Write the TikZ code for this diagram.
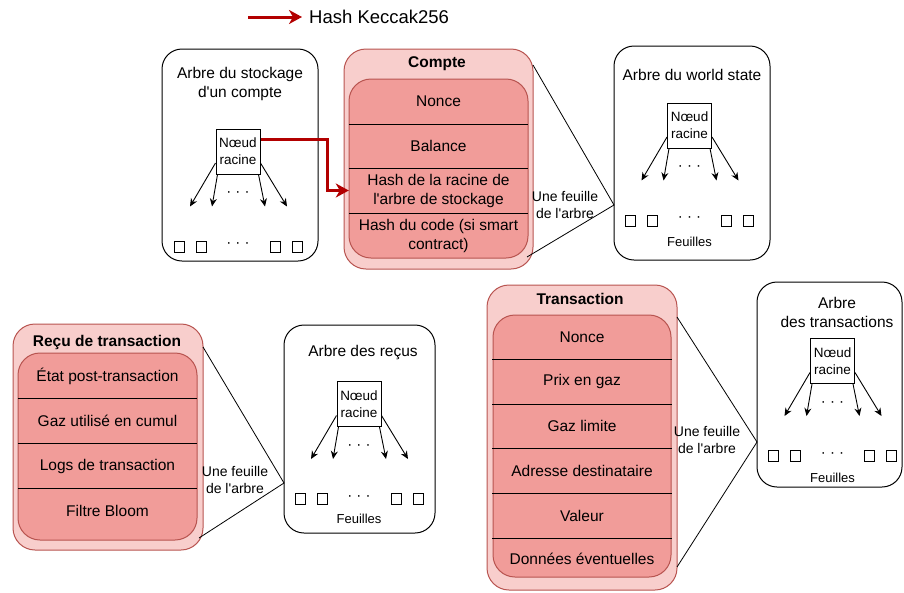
\documentclass[tikz,border=0pt]{standalone}
\usepackage{fontspec}
\setmainfont{Liberation Sans}[Ligatures=TeXOff]
\usepackage{tikz}
\usetikzlibrary{arrows.meta}
\definecolor{fondclair}{HTML}{F8CECC}
\definecolor{fondfonce}{HTML}{F19C99}
\definecolor{bordrouge}{HTML}{B85450}
\definecolor{rougehash}{HTML}{B20000}
\tikzset{
  boite/.style={rectangle, draw, rounded corners=20pt, line width=1pt},
  cadre/.style={rectangle, draw=bordrouge, fill=fondclair, rounded corners=22pt, line width=1pt},
  interieur/.style={rectangle, draw=bordrouge, fill=fondfonce, rounded corners=22pt, line width=1pt},
  champ/.style={rectangle, minimum width=179pt, minimum height=45pt, inner sep=0pt, align=center, font=\fontsize{15.5}{19}\selectfont},
  titre/.style={align=center, font=\fontsize{15.5}{19}\selectfont},
  entete/.style={font=\fontsize{15.5}{19}\selectfont\bfseries},
  petit/.style={align=center, font=\fontsize{13}{17}\selectfont},
  lien/.style={align=center, font=\fontsize{14}{17}\selectfont},
  racine/.style={rectangle, draw, fill=white, line width=1pt, minimum width=44pt, minimum height=45pt, inner sep=0pt, align=center, font=\fontsize{13.5}{17}\selectfont},
  feuille/.style={rectangle, draw, line width=1pt, minimum width=10pt, minimum height=11pt, inner sep=0pt},
  points/.style={inner sep=0pt, font=\fontsize{15}{19}\selectfont},
  fleche/.style={-{Stealth[length=8pt,width=7pt]}, line width=0.9pt},
  rouge/.style={draw=rougehash, line width=3pt, -{Stealth[length=13pt,width=14pt,inset=4pt]}},
}
\newcommand{\boite}[4] {\node at (#1) (#2) [boite, minimum width=#3pt, minimum height=#4pt] {};}
\newcommand{\cadre}[4] {\node at (#1) (#2) [cadre, minimum width=#3pt, minimum height=#4pt] {};}
\newcommand{\interieur}[4] {\node at (#1) (#2) [interieur, minimum width=#3pt, minimum height=#4pt] {};}
\newcommand{\champ}[3] {\node at (#1) (#2) [champ] {#3};}
\newcommand{\separe}[1] {\draw [line width=1pt] (#1.south west) -- (#1.south east);}
\newcommand{\feuillelien}[4] {\draw [line width=0.8pt] (#1) -- (#2) -- (#3); \node at (#4) [lien] {Une feuille\\de l'arbre};}
\newcommand{\arbre}[2] {
  \begin{scope}[shift={(#1)}]
  \node at (0,0) (#2) [racine] {Nœud\\racine};
  \coordinate (#2b1) at (-48,55);
  \coordinate (#2b2) at (-26,55);
  \coordinate (#2b3) at (27,55);
  \coordinate (#2b4) at (49,55);
  \draw [fleche] ([yshift=-11.5pt]#2.west) -- (#2b1);
  \draw [fleche] ([xshift=2pt]#2.south west) -- (#2b2);
  \draw [fleche] ([xshift=-2pt]#2.south east) -- (#2b3);
  \draw [fleche] ([yshift=-11.5pt]#2.east) -- (#2b4);
  \node at (0,43) (#2p1) [points] {· · ·};
  \node at (-59,95) (#2f1) [feuille] {};
  \node at (-37,95) (#2f2) [feuille] {};
  \node at (0,94) (#2p2) [points] {· · ·};
  \node at (37,95) (#2f3) [feuille] {};
  \node at (59,95) (#2f4) [feuille] {};
  \end{scope}}

\begin{document}
\begin{tikzpicture}[x=1pt, y=-1pt]
\useasboundingbox (0,0) rectangle (904,592);

\coordinate (legdeb) at (248,17);
\node at (302,17) (legende) [anchor=west, inner xsep=7pt, font=\fontsize{18.5}{22}\selectfont] {Hash Keccak256};
\draw [rouge] (legdeb) -- (legende.west);

\boite {240,155}{stockbox}{156}{212}
\node at (240,84) (stocktitre) [titre] {Arbre du stockage\\d'un compte};
\arbre {238,151.5}{stock}

\cadre {438.5,159}{compte}{189}{220}
\node at (437,64) (comptetitre) [entete] {Compte};
\interieur {438.5,168.5}{comptein}{179}{179}
\champ {438.5,101.5}{cNonce}{Nonce}
\champ {438.5,146}{cBalance}{Balance}
\champ {438.5,190.5}{cHash}{Hash de la racine de\\l'arbre de stockage}
\champ {438.5,235.5}{cCode}{Hash du code (si smart\\contract)}
\separe {cNonce}
\separe {cBalance}
\separe {cHash}

\boite {692,153}{mondebox}{156}{214}
\node at (692,75) (mondetitre) [titre] {Arbre du world state};
\arbre {689.5,125.5}{monde}
\node at (689.5,242) (mondefeuilles) [petit] {Feuilles};

\coordinate (compteh) at (533,65);
\coordinate (compteb) at (527,257);
\coordinate (mondeg) at (614,205);
\feuillelien {compteh}{mondeg}{compteb}{565,205}

\cadre {108,437}{recu}{190}{226}
\node at (107,342) (recutitre) [entete] {Reçu de transaction};
\interieur {107.5,446.5}{recuin}{179}{187}
\champ {107.5,376}{rEtat}{État post-transaction}
\champ {107.5,421}{rGaz}{Gaz utilisé en cumul}
\champ {107.5,466}{rLogs}{Logs de transaction}
\champ {107.5,511}{rBloom}{Filtre Bloom}
\separe {rEtat}
\separe {rGaz}
\separe {rLogs}

\boite {359.5,429}{recusbox}{151}{208}
\node at (363,353) (recustitre) [titre] {Arbre des reçus};
\arbre {359,404}{recus}
\node at (359,519) (recusfeuilles) [petit] {Feuilles};

\coordinate (recuh) at (203,347);
\coordinate (recub) at (199,538);
\coordinate (recusg) at (284,483);
\feuillelien {recuh}{recusg}{recub}{235,480}

\cadre {582,437.5}{trans}{190}{305}
\node at (580,299) (transtitre) [entete] {Transaction};
\interieur {582,446}{transin}{178}{262}
\champ {582,337}{tNonce}{Nonce}
\champ {582,381.5}{tPrix}{Prix en gaz}
\champ {582,426}{tLimite}{Gaz limite}
\champ {582,470.5}{tAdresse}{Adresse destinataire}
\champ {582,515.5}{tValeur}{Valeur}
\champ {582,559}{tDonnees}{Données éventuelles}
\separe {tNonce}
\separe {tPrix}
\separe {tLimite}
\separe {tAdresse}
\separe {tValeur}

\boite {829.5,384.5}{transbox}{145}{205}
\node at (837,312.5) (transarbtitre) [titre] {Arbre\\des transactions};
\arbre {832.5,361}{transarb}
\node at (832.5,478) (transfeuilles) [petit] {Feuilles};

\coordinate (transh) at (677,317);
\coordinate (transb) at (677,567);
\coordinate (transg) at (757,442);
\feuillelien {transh}{transg}{transb}{707,440}

\draw [rouge] ([yshift=12.5pt]stock.east) -- ++(67,0) |- (cHash.west);

\end{tikzpicture}
\end{document}
